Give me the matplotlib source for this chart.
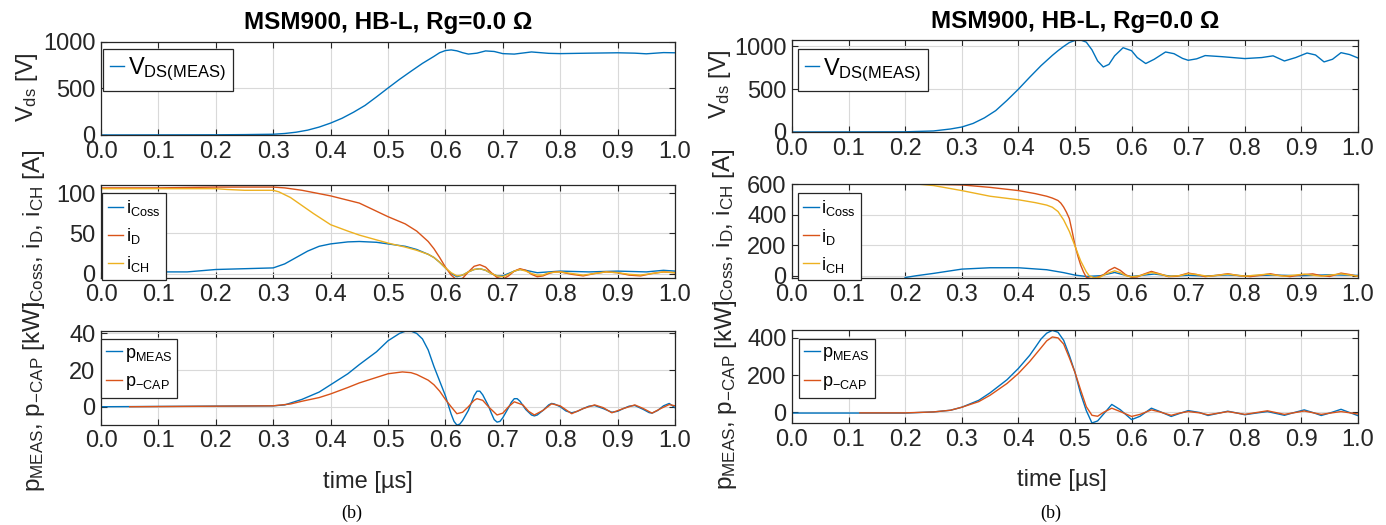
import matplotlib
matplotlib.use('Agg')
from matplotlib import pyplot as plt

plt.rcParams['font.family'] = ['Liberation Sans', 'DejaVu Sans']
plt.rcParams['mathtext.default'] = 'regular'

BLUE = '#0072BD'
RED = '#D95319'
YEL = '#EDB120'
DARK = '#262626'

title_txt = 'MSM900, HB-L, Rg=0.0 \u03a9'
x_ticks = [0.0, 0.1, 0.2, 0.3, 0.4, 0.5, 0.6, 0.7, 0.8, 0.9, 1.0]

# ---- left column (100 A case) ----
L_vds_t = [0, 0.1, 0.2, 0.25, 0.3, 0.32, 0.34, 0.36, 0.38, 0.4, 0.42, 0.44, 0.46, 0.48, 0.5, 0.52, 0.54, 0.56,
           0.58, 0.59, 0.6, 0.61, 0.62, 0.63, 0.64, 0.655, 0.67, 0.685, 0.7, 0.72, 0.75, 0.78, 0.8, 0.85, 0.9,
           0.93, 0.95, 0.98, 1.0]
L_vds = [0, 1, 2, 4, 8, 16, 30, 52, 85, 128, 180, 245, 318, 410, 505, 598, 685, 770,
         845, 885, 908, 915, 905, 885, 870, 880, 904, 898, 875, 870, 893, 878, 875, 880, 884,
         880, 873, 886, 884]

L_id_t = [0, 0.1, 0.2, 0.3, 0.32, 0.35, 0.4, 0.45, 0.5, 0.53, 0.55, 0.57, 0.58, 0.59, 0.6, 0.61, 0.62, 0.63,
          0.64, 0.65, 0.66, 0.67, 0.68, 0.69, 0.7, 0.71, 0.72, 0.73, 0.74, 0.75, 0.76, 0.77, 0.78, 0.79, 0.8,
          0.82, 0.84, 0.86, 0.88, 0.9, 0.92, 0.94, 0.96, 0.98, 1.0]
L_id = [107, 107, 108, 108, 107, 104, 97, 88, 71, 62, 53, 40, 31, 20, 8, -2, -8, -6,
        2, 9, 11, 8, 1, -5, -7, -3, 3, 6, 4, -1, -4, -3, 0, 2, 2,
        -1, -3, 0, 2, 1, -2, -3, 0, 2, 1]

L_ich_t = [0, 0.1, 0.2, 0.22, 0.25, 0.3, 0.31, 0.33, 0.35, 0.37, 0.4, 0.43, 0.45, 0.48, 0.5, 0.53, 0.55, 0.57,
           0.58, 0.59, 0.6, 0.61, 0.62, 0.63, 0.64, 0.65, 0.66, 0.67, 0.68, 0.69, 0.7, 0.71, 0.72, 0.73, 0.74,
           0.75, 0.76, 0.77, 0.78, 0.8, 0.82, 0.84, 0.86, 0.88, 0.9, 0.92, 0.94, 0.96, 0.98, 1.0]
L_ich = [106, 106, 106, 105, 104, 104, 102, 95, 85, 75, 61, 53, 48, 42, 38, 33, 29, 24,
         20, 14, 7, 1, -3, -2, 2, 5, 6, 4, 0, -3, -4, -1, 3, 5, 3,
         0, -2, -2, 1, 2, 0, -2, 0, 2, 1, -1, -2, 0, 2, 1]

L_icoss_t = [0, 0.05, 0.1, 0.15, 0.2, 0.25, 0.3, 0.32, 0.34, 0.36, 0.38, 0.4, 0.43, 0.45, 0.48, 0.5, 0.53, 0.55,
             0.57, 0.58, 0.59, 0.6, 0.61, 0.62, 0.63, 0.64, 0.65, 0.66, 0.67, 0.68, 0.69, 0.7, 0.71, 0.72, 0.73,
             0.74, 0.76, 0.78, 0.8, 0.85, 0.9, 0.95, 0.98, 1.0]
L_icoss = [2, 2, 2, 2, 5, 6, 7, 12, 20, 28, 34, 37, 39.5, 40, 39, 37, 34, 30,
           24, 20, 14, 7, 0, -4, -2, 2, 5, 6, 4, 0, -3, -3, 0, 3, 5,
           4, 1, 2, 3, 2, 3, 2, 4, 3]

L_pmeas_t = [0, 0.3, 0.32, 0.35, 0.38, 0.4, 0.43, 0.45, 0.48, 0.5, 0.52, 0.53, 0.54, 0.55, 0.56, 0.57, 0.58,
             0.59, 0.6, 0.605, 0.61, 0.615, 0.62, 0.625, 0.63, 0.64, 0.645, 0.65, 0.655, 0.66, 0.665, 0.675,
             0.68, 0.685, 0.69, 0.695, 0.7, 0.71, 0.715, 0.72, 0.725, 0.73, 0.74, 0.75, 0.755, 0.76, 0.77,
             0.78, 0.785, 0.79, 0.8, 0.81, 0.82, 0.83, 0.84, 0.85, 0.86, 0.875, 0.89, 0.9, 0.91, 0.92, 0.93,
             0.945, 0.955, 0.96, 0.97, 0.98, 0.99, 1.0]
L_pmeas = [0, 0.5, 1, 4, 8, 12, 18, 23, 30, 36, 40, 41.2, 41.3, 40, 37, 31, 22,
           14, 6, 1, -4, -8, -10, -9.5, -7.5, -2, 2, 6, 8.5, 8.5, 6.5, 0.5,
           -3.5, -7, -8.4, -8, -6, -0.5, 2.5, 4.4, 4.4, 3, -1.5, -4.5, -5, -4.5, -2,
           1, 1.8, 1.5, 0, -2.3, -3.3, -2.5, -1, 0.3, 0.7, -1, -3, -2.5, -1, 0.3, 0.7,
           -1.5, -3.2, -3.5, -2, 0.5, 1.8, -0.5]

L_pcap_t = [0.05, 0.3, 0.33, 0.35, 0.38, 0.4, 0.43, 0.45, 0.48, 0.5, 0.525, 0.54, 0.55, 0.57, 0.58, 0.59, 0.6,
            0.61, 0.62, 0.63, 0.64, 0.65, 0.655, 0.665, 0.675, 0.69, 0.7, 0.71, 0.72, 0.735, 0.745, 0.755,
            0.77, 0.785, 0.8, 0.82, 0.84, 0.86, 0.875, 0.89, 0.91, 0.93, 0.945, 0.96, 0.975, 0.99, 1.0]
L_pcap = [0, 0.5, 1.5, 3, 5, 7, 10.5, 13, 16, 18, 19, 18.6, 17.6, 14.5, 12, 8.5, 4,
          0, -3.8, -3, 0, 3.5, 4.4, 3.5, 0, -4.5, -3.5, 0, 2.7, 1, -2.5, -4.5,
          -2, 1.6, 0.5, -3.8, -1, 1, -0.5, -3.3, -1, 1, -1, -3.5, -1, 1.2, 0.5]

# ---- right column (600 A case) ----
R_vds_t = [0, 0.2, 0.25, 0.28, 0.3, 0.32, 0.34, 0.36, 0.38, 0.4, 0.42, 0.44, 0.46, 0.47, 0.48, 0.49, 0.5,
           0.51, 0.52, 0.53, 0.54, 0.55, 0.56, 0.57, 0.585, 0.6, 0.61, 0.625, 0.64, 0.66, 0.675, 0.69, 0.7,
           0.715, 0.73, 0.76, 0.8, 0.83, 0.85, 0.87, 0.89, 0.91, 0.925, 0.94, 0.955, 0.97, 0.985, 1.0]
R_vds = [0, 2, 12, 35, 58, 100, 165, 250, 370, 500, 640, 775, 895, 950, 1000, 1045, 1070,
         1075, 1050, 960, 830, 760, 790, 890, 985, 950, 870, 800, 850, 935, 915, 860, 838,
         855, 893, 880, 858, 870, 890, 830, 870, 923, 900, 819, 850, 927, 905, 865]

R_id_t = [0, 0.2, 0.25, 0.3, 0.35, 0.4, 0.43, 0.45, 0.46, 0.47, 0.475, 0.48, 0.485, 0.49, 0.495, 0.5, 0.505,
          0.51, 0.515, 0.52, 0.53, 0.54, 0.55, 0.56, 0.57, 0.58, 0.59, 0.6, 0.61, 0.62, 0.635, 0.65, 0.665,
          0.68, 0.7, 0.715, 0.73, 0.75, 0.77, 0.79, 0.81, 0.83, 0.845, 0.86, 0.88, 0.9, 0.92, 0.935, 0.95,
          0.97, 0.985, 1.0]
R_id = [600, 600, 598, 594, 578, 557, 537, 520, 508, 492, 475, 449, 415, 374, 290, 200, 130,
        70, 25, -10, -20, -10, 5, 35, 54, 35, 5, -10, -8, 8, 28, 12, -6,
        -4, 17, 8, -6, 2, 13, 0, -6, 4, 13, 2, -6, 6, 12, 0, -5,
        17, 8, -4]

R_ich_t = [0, 0.22, 0.25, 0.3, 0.35, 0.4, 0.43, 0.45, 0.46, 0.47, 0.48, 0.49, 0.5, 0.51, 0.52, 0.525, 0.535,
           0.545, 0.555, 0.57, 0.58, 0.59, 0.6, 0.615, 0.635, 0.65, 0.665, 0.685, 0.7, 0.72, 0.735, 0.77,
           0.8, 0.84, 0.87, 0.905, 0.935, 0.97, 1.0]
R_ich = [600, 600, 590, 557, 520, 497, 478, 462, 448, 420, 365, 290, 194, 97, 25, 0, -15,
         -8, 12, 32, 20, 0, -8, 0, 21, 10, -4, 0, 13, 5, -4, 10,
         -3, 10, -3, 10, -3, 12, -3]

R_icoss_t = [0.2, 0.22, 0.25, 0.3, 0.35, 0.4, 0.45, 0.48, 0.5, 0.52, 0.545, 0.57, 0.59, 0.6, 0.64, 0.67, 0.7,
             0.73, 0.77, 0.8, 0.85, 0.9, 0.95, 1.0]
R_icoss = [-12, 0, 15, 43, 52, 52, 39, 20, 4, -5, 0, 21, 2, -5, 11, -3, 3,
           -2, 5, -1, 4, 0, 6, 2]

R_pmeas_t = [0, 0.2, 0.25, 0.28, 0.3, 0.33, 0.35, 0.38, 0.4, 0.42, 0.43, 0.44, 0.45, 0.46, 0.47, 0.48, 0.49,
             0.5, 0.51, 0.52, 0.53, 0.54, 0.55, 0.565, 0.58, 0.6, 0.615, 0.635, 0.65, 0.67, 0.685, 0.7, 0.72,
             0.735, 0.755, 0.77, 0.785, 0.8, 0.82, 0.84, 0.855, 0.87, 0.885, 0.905, 0.92, 0.935, 0.95, 0.97,
             0.985, 1.0]
R_pmeas = [-3, -3, 3, 12, 28, 65, 105, 175, 235, 305, 348, 392, 423, 438, 428, 385, 305,
           214, 100, 10, -56, -45, -10, 43, 15, -38, -20, 23, 5, -21, -5, 10, 0,
           -16, -3, 7, -2, -12, -3, 5, -5, -15, -2, 14, 0, -16, -3, 17,
           0, -17]

R_pcap_t = [0.12, 0.2, 0.25, 0.28, 0.3, 0.33, 0.35, 0.38, 0.4, 0.42, 0.44, 0.45, 0.46, 0.47, 0.48, 0.49, 0.5,
            0.51, 0.52, 0.53, 0.54, 0.55, 0.565, 0.58, 0.6, 0.615, 0.635, 0.65, 0.67, 0.685, 0.7, 0.72, 0.735,
            0.755, 0.77, 0.8, 0.84, 0.87, 0.905, 0.935, 0.97, 1.0]
R_pcap = [-2, -2, 3, 12, 28, 58, 92, 155, 208, 272, 345, 382, 403, 398, 365, 292, 214,
          120, 31, -15, -20, 0, 23, 5, -21, -10, 14, 3, -15, -3, 5, -2, -12,
          -3, 5, -10, 9, -10, 8, -10, 5, -8]

# axes boxes in figure fractions [left, bottom, width, height]
L_pos = [[0.0729, 0.7429, 0.4141, 0.1771],
         [0.0729, 0.4699, 0.4141, 0.1768],
         [0.0729, 0.1914, 0.4141, 0.1780]]
R_pos = [[0.5714, 0.7486, 0.4084, 0.1752],
         [0.5714, 0.4705, 0.4084, 0.1790],
         [0.5714, 0.1943, 0.4084, 0.1771]]

fig = plt.figure(figsize=(13.86, 5.25), dpi=100)


def style(ax, ylim, yticks):
    ax.set_xlim(0, 1)
    ax.set_ylim(*ylim)
    ax.set_xticks(x_ticks)
    ax.set_xticklabels(['%.1f' % v for v in x_ticks])
    ax.set_yticks(yticks)
    ax.grid(True, color='#d9d9d9', lw=0.8)
    ax.set_axisbelow(True)
    ax.tick_params(direction='in', length=4, top=True, right=True, colors=DARK,
                   labelsize=17, pad=4, width=0.8)
    for s in ax.spines.values():
        s.set_color(DARK)
        s.set_linewidth(0.9)


def leg(ax, x, y, fs, hl, ls):
    lg = ax.legend(loc='upper left', bbox_to_anchor=(x, y), borderaxespad=0, fontsize=fs,
                   handlelength=hl, handletextpad=0.15, labelspacing=ls, borderpad=0.3,
                   fancybox=False, framealpha=1, edgecolor=DARK)
    lg.get_frame().set_linewidth(0.9)


columns = [
    (L_pos, (L_vds_t, L_vds), (L_icoss_t, L_icoss), (L_id_t, L_id), (L_ich_t, L_ich),
     (L_pmeas_t, L_pmeas), (L_pcap_t, L_pcap),
     [(0, 1000), (-6, 110), (-9.7, 41.3)], [[0, 500, 1000], [0, 50, 100], [0, 20, 40]],
     [(-0.106, 0.52), (-0.094, 0.54), (-0.094, 0.30)],
     [(0.0035, 0.925), (0.002, 0.923), (0.0, 0.914)], 0.465, 352),
    (R_pos, (R_vds_t, R_vds), (R_icoss_t, R_icoss), (R_id_t, R_id), (R_ich_t, R_ich),
     (R_pmeas_t, R_pmeas), (R_pcap_t, R_pcap),
     [(0, 1075), (-15, 600), (-56, 440)], [[0, 500, 1000], [0, 200, 400, 600], [0, 200, 400]],
     [(-0.104, 0.52), (-0.097, 0.54), (-0.094, 0.30)],
     [(0.0106, 0.902), (0.0106, 0.904), (0.0124, 0.903)], 0.477, 1051),
]

for (pos, vds, icoss, idd, ich, pmeas, pcap, ylims, yts, ylab, legxy, xlx, capx) in columns:
    ax1 = fig.add_axes(pos[0])
    ax1.plot(vds[0], vds[1], color=BLUE, lw=1.0, label=r'V$_{DS(MEAS)}$')
    style(ax1, ylims[0], yts[0])
    ax1.set_ylabel(r'V$_{ds}$ [V]', fontsize=17, color=DARK)
    ax1.yaxis.set_label_coords(*ylab[0])
    ax1.set_title(title_txt, fontsize=17.5, fontweight='bold', pad=9)
    leg(ax1, legxy[0][0], legxy[0][1], 17, 0.6, 0.3)

    ax2 = fig.add_axes(pos[1])
    ax2.plot(icoss[0], icoss[1], color=BLUE, lw=1.0, label=r'i$_{Coss}$')
    ax2.plot(idd[0], idd[1], color=RED, lw=1.0, label=r'i$_{D}$')
    ax2.plot(ich[0], ich[1], color=YEL, lw=1.0, label=r'i$_{CH}$')
    style(ax2, ylims[1], yts[1])
    ax2.set_ylabel(r'i$_{Coss}$, i$_{D}$, i$_{CH}$ [A]', fontsize=17.5, color=DARK)
    ax2.yaxis.set_label_coords(*ylab[1])
    leg(ax2, legxy[1][0], legxy[1][1], 13, 0.85, 0.45)

    ax3 = fig.add_axes(pos[2])
    ax3.plot(pmeas[0], pmeas[1], color=BLUE, lw=1.0, label=r'p$_{MEAS}$')
    ax3.plot(pcap[0], pcap[1], color=RED, lw=1.0, label=r'p$_{-CAP}$')
    style(ax3, ylims[2], yts[2])
    ax3.set_ylabel(r'p$_{MEAS}$, p$_{-CAP}$ [kW]', fontsize=17.5, color=DARK)
    ax3.yaxis.set_label_coords(*ylab[2])
    ax3.set_xlabel('time [\u00b5s]', fontsize=17, color=DARK)
    ax3.xaxis.set_label_coords(xlx, -0.5)
    leg(ax3, legxy[2][0], legxy[2][1], 13, 0.85, 0.55)

    fig.text(capx / 1386, 1 - 513 / 525, '(b)', family='Liberation Serif', fontsize=13,
             ha='center', va='center')

plt.savefig('out.png', dpi=100)
